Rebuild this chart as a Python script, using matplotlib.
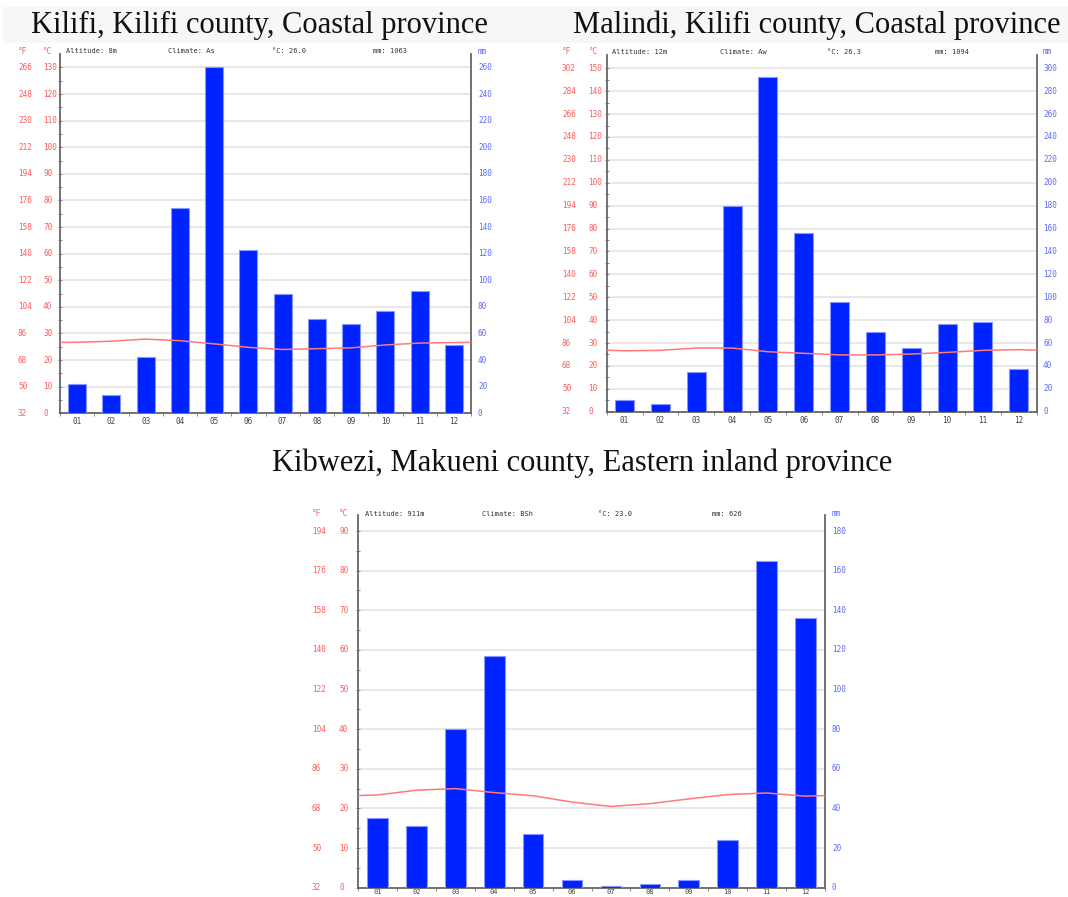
import numpy as np
import matplotlib
matplotlib.use("Agg")
import matplotlib.pyplot as plt
from matplotlib.patches import Rectangle
from matplotlib.ticker import FixedLocator, NullFormatter
from matplotlib.transforms import blended_transform_factory

W, H, DPI = 1068, 897, 100

months = [f"{m:02d}" for m in range(1, 13)]

# Monthly precipitation (mm) and mean temperature (°C)
kilifi_rain = [22, 14, 42, 154, 260, 123, 90, 71, 67, 77, 92, 51]
kilifi_temp = [26.7, 27.1, 27.9, 27.3, 26.1, 24.8, 24.0, 24.3, 24.6, 25.7, 26.4, 26.6]

malindi_rain = [10, 7, 35, 180, 292, 156, 96, 70, 56, 77, 78, 37]
malindi_temp = [26.6, 26.8, 27.8, 27.8, 26.2, 25.5, 24.8, 24.8, 25.2, 25.9, 26.8, 27.1]

kibwezi_rain = [35, 31, 80, 117, 27, 4, 1, 2, 4, 24, 165, 136]
kibwezi_temp = [23.4, 24.6, 25.0, 24.0, 23.2, 21.6, 20.5, 21.2, 22.4, 23.5, 23.9, 23.1]

titles = ["Kilifi, Kilifi county, Coastal province",
          "Malindi, Kilifi county, Coastal province",
          "Kibwezi, Makueni county, Eastern inland province"]
altitudes = ["8m", "12m", "911m"]
climates = ["As", "Aw", "BSh"]
c_max = [130, 150, 90]

stations = [
    dict(title=titles[0], alt=altitudes[0], clim=climates[0], rain=kilifi_rain,
         temp=kilifi_temp, cmax=c_max[0]),
    dict(title=titles[1], alt=altitudes[1], clim=climates[1], rain=malindi_rain,
         temp=malindi_temp, cmax=c_max[1]),
    dict(title=titles[2], alt=altitudes[2], clim=climates[2], rain=kibwezi_rain,
         temp=kibwezi_temp, cmax=c_max[2]),
]

# Pixel layout of each panel
layouts = [
    dict(left=60, right=471, base=413.3, grid_top=67.5, spine_top=54, head_y=51,
         fcol=18, ccol=43, mmcol=478, title_xy=(259, 25),
         head_x=[66, 168, 272, 373], xpad=3, xsize=5.5),
    dict(left=606.7, right=1036.7, base=411.7, grid_top=68.3, spine_top=55, head_y=52,
         fcol=562, ccol=588.5, mmcol=1043, title_xy=(817, 25),
         head_x=[612.5, 720, 827, 935], xpad=3, xsize=5.5),
    dict(left=358, right=825, base=887.7, grid_top=531, spine_top=515, head_y=513.6,
         fcol=312, ccol=339, mmcol=832, title_xy=(582, 463),
         head_x=[365, 482, 598, 712.5], xpad=0.6, xsize=5),
]

BAR = "#0022ff"
BAR_EDGE = "#8a96ff"
TEMP = "#ff7a7a"
RED_TXT = "#ff5a5a"
BLUE_TXT = "#5a6aff"
GRID = "#e6e6e6"
SPINE = "#666666"
MONO = "DejaVu Sans Mono"

fig = plt.figure(figsize=(W / DPI, H / DPI), dpi=DPI)
fig.patch.set_facecolor("white")


def fx(px):
    return px / W


def fy(py):
    return 1 - py / H


# light band behind the upper titles
fig.patches.append(Rectangle((fx(3), fy(43)), fx(1068) - fx(3), 36 / H,
                             transform=fig.transFigure, facecolor="#f7f7f7",
                             edgecolor="none", zorder=0))


def draw_panel(st, lay):
    x0, x1 = lay["left"], lay["right"]
    base, gtop, stop = lay["base"], lay["grid_top"], lay["spine_top"]
    cmax = st["cmax"]
    px_per_c = (base - gtop) / cmax
    ytop_c = (base - stop) / px_per_c

    ax = fig.add_axes([fx(x0), fy(base), (x1 - x0) / W, (base - stop) / H])
    ax.set_xlim(0.5, 12.5)
    ax.set_ylim(0, 2 * ytop_c)
    ax.set_facecolor("none")

    # horizontal grid at every 10 °C (20 mm)
    for mm in range(0, 2 * cmax + 1, 20):
        ax.axhline(mm, color=GRID, lw=1.3, zorder=0)

    x = np.arange(1, 13)
    ax.bar(x, st["rain"], width=0.53, color=BAR, edgecolor=BAR_EDGE,
           linewidth=0.8, zorder=3)

    ax.spines["top"].set_visible(False)
    for side in ("left", "right", "bottom"):
        ax.spines[side].set_color(SPINE)
        ax.spines[side].set_linewidth(1.3)

    ax.set_yticks(np.arange(0, 2 * cmax + 1, 20))
    ax.set_yticks(np.arange(0, 2 * cmax + 1, 10), minor=True)
    ax.yaxis.set_major_formatter(NullFormatter())
    ax.tick_params(axis="y", which="both", left=True, right=True, direction="inout",
                   length=3.5, width=0.7, color="#888888")

    ax.xaxis.set_major_locator(FixedLocator(np.arange(0.5, 13, 1.0)))
    ax.xaxis.set_major_formatter(NullFormatter())
    ax.xaxis.set_minor_locator(FixedLocator(x))
    ax.set_xticklabels(months, minor=True)
    ax.tick_params(axis="x", which="major", direction="out", length=2.5, width=0.7,
                   color="#888888")
    ax.tick_params(axis="x", which="minor", length=0, pad=lay["xpad"],
                   labelsize=lay["xsize"], labelcolor="#444444")
    for lab in ax.get_xticklabels(minor=True):
        lab.set_fontfamily(MONO)

    # temperature curve, drawn on top of the bars
    axt = ax.twinx()
    axt.set_ylim(0, ytop_c)
    axt.set_axis_off()
    t = st["temp"]
    edge = (t[0] + t[-1]) / 2
    axt.plot(np.concatenate([[0.5], x, [12.5]]), [edge] + list(t) + [edge],
             color=TEMP, lw=1.1, zorder=4)

    # tick label columns: °F, °C on the left, mm on the right
    tr = blended_transform_factory(fig.transFigure, ax.transData)
    for c in range(0, cmax + 1, 10):
        f = round(c * 1.8 + 32)
        ax.text(fx(lay["fcol"]), 2 * c, f"{f}", transform=tr, ha="left",
                va="center", fontsize=5.5, color=RED_TXT, family=MONO)
        ax.text(fx(lay["ccol"]), 2 * c, f"{c}", transform=tr, ha="left",
                va="center", fontsize=5.5, color=RED_TXT, family=MONO)
        ax.text(fx(lay["mmcol"]), 2 * c, f"{2 * c}", transform=tr, ha="left",
                va="center", fontsize=5.5, color=BLUE_TXT, family=MONO)

    # header line
    hy = fy(lay["head_y"])
    fig.text(fx(lay["fcol"]), hy, "°F", color=RED_TXT, fontsize=5.5, family=MONO,
             va="center")
    fig.text(fx(lay["ccol"]), hy, "°C", color=RED_TXT, fontsize=5.5, family=MONO,
             va="center")
    fig.text(fx(lay["mmcol"]), hy, "mm", color=BLUE_TXT, fontsize=5.5, family=MONO,
             va="center")
    info = [f"Altitude: {st['alt']}", f"Climate: {st['clim']}",
            f"°C: {np.mean(t):.1f}", f"mm: {sum(st['rain'])}"]
    for hx, s in zip(lay["head_x"], info):
        fig.text(fx(hx), hy, s, color="#333333", fontsize=5, family=MONO,
                 va="center")

    tx, ty = lay["title_xy"]
    fig.text(fx(tx), fy(ty), st["title"], ha="center", va="center",
             fontsize=22, family="Liberation Serif", color="#111111")


for st, lay in zip(stations, layouts):
    draw_panel(st, lay)

fig.savefig("out.png", dpi=DPI)
